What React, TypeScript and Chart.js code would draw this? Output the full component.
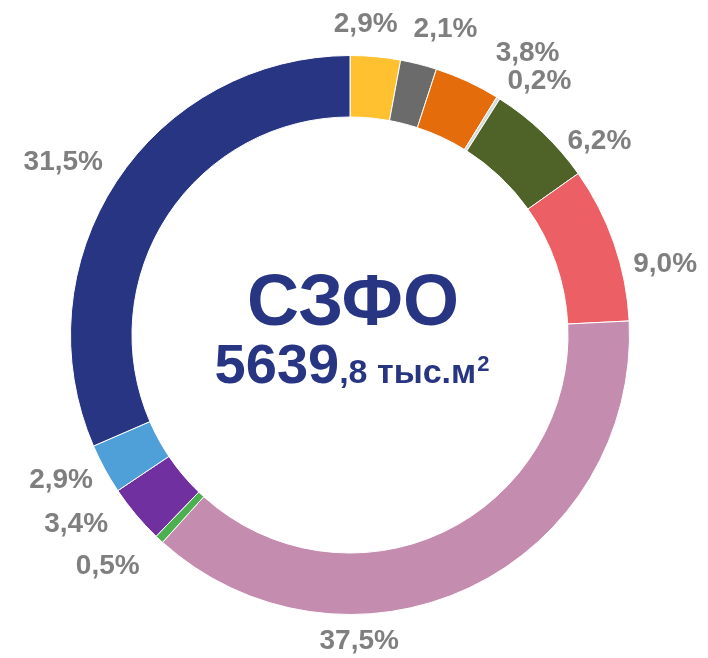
import React, { useEffect, useRef } from "react";
import { Chart, registerables } from "chart.js";

Chart.register(...registerables);

// ---- Data ----
const categories = [
  "Категория 1",
  "Категория 2",
  "Категория 3",
  "Категория 4",
  "Категория 5",
  "Категория 6",
  "Категория 7",
  "Категория 8",
  "Категория 9",
  "Категория 10",
  "Категория 11",
];
const shares = [2.9, 2.1, 3.8, 0.2, 6.2, 9.0, 37.5, 0.5, 3.4, 2.9, 31.5];
const regionName = "СЗФО";
const totalInteger = "5639";
const totalRest = ",8 тыс.м";
const totalSup = "2";

// ---- Styles ----
const sliceColors = [
  "#FFC12F",
  "#6B6B6B",
  "#E46C0A",
  "#D9D9D9",
  "#4F6228",
  "#EC5F64",
  "#C48CAF",
  "#4CAF50",
  "#7030A0",
  "#4FA0D8",
  "#283583",
];
// label offsets (px) from the point outside each slice's mid angle
const labelNudges: [number, number][] = [
  [-13, 3],
  [18, 0],
  [45, 5],
  [22, 14],
  [32, 35],
  [17, 32],
  [-126, 21],
  [-27, 1],
  [-32, -13],
  [-12, -6],
  [-23, 0],
];
const FONT = '"Liberation Sans", Arial, sans-serif';
const LABEL_COLOR = "#7F7F7F";
const CENTER_COLOR = "#283583";

const fmt = (v: number) => v.toFixed(1).replace(".", ",") + "%";

const labelPlugin = {
  id: "sliceLabels",
  afterDatasetsDraw(chart: any) {
    const ctx = chart.ctx;
    const meta = chart.getDatasetMeta(0);
    ctx.save();
    ctx.font = `bold 28px ${FONT}`;
    ctx.fillStyle = LABEL_COLOR;
    ctx.textAlign = "center";
    ctx.textBaseline = "middle";
    meta.data.forEach((arc: any, i: number) => {
      const { x, y, startAngle, endAngle, outerRadius } = arc.getProps(
        ["x", "y", "startAngle", "endAngle", "outerRadius"],
        true
      );
      const mid = (startAngle + endAngle) / 2;
      const r = outerRadius + 36;
      const nx = labelNudges[i] ? labelNudges[i][0] : 0;
      const ny = labelNudges[i] ? labelNudges[i][1] : 0;
      ctx.fillText(fmt(shares[i]), x + r * Math.cos(mid) + nx, y + r * Math.sin(mid) + ny);
    });

    // center text
    const cx = meta.data[0].x;
    const cy = meta.data[0].y;
    ctx.fillStyle = CENTER_COLOR;
    ctx.textBaseline = "alphabetic";
    ctx.font = `bold 72px ${FONT}`;
    ctx.fillText(regionName, cx + 3, cy - 10);

    const bigFont = `bold 56px ${FONT}`;
    const smallFont = `bold 34px ${FONT}`;
    const supFont = `bold 22px ${FONT}`;
    ctx.font = bigFont;
    const w1 = ctx.measureText(totalInteger).width;
    ctx.font = smallFont;
    const w2 = ctx.measureText(totalRest).width;
    ctx.font = supFont;
    const w3 = ctx.measureText(totalSup).width;
    const startX = cx + 2 - (w1 + w2 + w3 + 1) / 2;
    const base = cy + 48;
    ctx.textAlign = "left";
    ctx.font = bigFont;
    ctx.fillText(totalInteger, startX, base);
    ctx.font = smallFont;
    ctx.fillText(totalRest, startX + w1, base);
    ctx.font = supFont;
    ctx.fillText(totalSup, startX + w1 + w2 + 1, base - 12);
    ctx.restore();
  },
};

export default function App() {
  const canvasRef = useRef<HTMLCanvasElement | null>(null);

  useEffect(() => {
    if (!canvasRef.current) return;
    const chart = new Chart(canvasRef.current, {
      type: "doughnut",
      data: {
        labels: categories,
        datasets: [
          {
            data: shares,
            backgroundColor: sliceColors,
            borderColor: "#FFFFFF",
            borderWidth: 1,
          },
        ],
      },
      options: {
        responsive: false,
        animation: false,
        cutout: "78%",
        layout: { padding: { left: 70, right: 78, top: 55, bottom: 43 } },
        plugins: {
          legend: { display: false },
          tooltip: { enabled: false },
        },
      },
      plugins: [labelPlugin],
    });
    return () => chart.destroy();
  }, []);

  return (
    <div style={{ position: "absolute", left: 0, top: 0, width: 708, height: 658, background: "#fff" }}>
      <canvas ref={canvasRef} width={708} height={658} style={{ display: "block" }} />
    </div>
  );
}
